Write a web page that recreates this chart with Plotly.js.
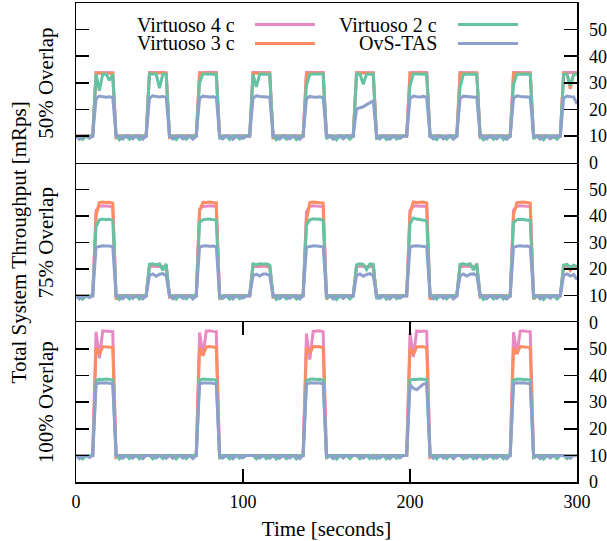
<!DOCTYPE html>
<html>
<head>
<meta charset="utf-8">
<script src="https://cdn.plot.ly/plotly-3.0.1.min.js"></script>
<style>html,body{margin:0;padding:0;background:#fff;}#chart{width:607px;height:541px;}</style>
</head>
<body>
<div id="chart"></div>
<script>
// Time axis (seconds)
const timeSec = [
0,2,4,6,8,10,12,14,16,18,
20,22,24,26,28,30,32,34,36,38,
40,42,44,46,48,50,52,54,56,58,
60,62,64,66,68,70,72,74,76,78,
80,82,84,86,88,90,92,94,96,98,
100,102,104,106,108,110,112,114,116,118,
120,122,124,126,128,130,132,134,136,138,
140,142,144,146,148,150,152,154,156,158,
160,162,164,166,168,170,172,174,176,178,
180,182,184,186,188,190,192,194,196,198,
200,202,204,206,208,210,212,214,216,218,
220,222,224,226,228,230,232,234,236,238,
240,242,244,246,248,250,252,254,256,258,
260,262,264,266,268,270,272,274,276,278,
280,282,284,286,288,290,292,294,296,298,
300];

const seriesNames = ['Virtuoso 4 c','Virtuoso 3 c','Virtuoso 2 c','OvS-TAS'];
const panelLabels = ['50% Overlap','75% Overlap','100% Overlap'];
const yTickVals = [0,10,20,30,40,50];
const xTickVals = [0,100,200,300];

// ---------------- 50% overlap ----------------
const p50_v4 = [
10,10,10,10,10,10,
33.9,33.9,34,33.9,33.9,33.8,
10,10,10,10,10,10,10,10,10,10,
33.9,34,33.9,33.9,34,33.8,
10,10,10,10,10,10,10,10,10,
33.8,33.9,34,34,33.9,33.9,
10,10,10,10,10,10,10,10,10,10,
33.9,33.9,33.8,34,33.9,33.9,
10,10,10,10,10,10,10,10,10,10,
33.9,34,33.9,33.9,33.8,33.9,
10,10,10,10,10,10,10,10,10,
33.9,33.9,34,33.9,33.9,33.8,
10,10,10,10,10,10,10,10,10,10,
33.8,33.9,33.9,34,33.9,33.9,
10,10,10,10,10,10,10,10,10,
33.9,33.9,34,33.9,33.9,33.8,
10,10,10,10,10,10,10,10,10,10,
33.9,34,33.9,33.9,33.9,33.8,
10,10,10,10,10,10,10,10,10,
33.9,33.9,34,33.9,33.9];
const p50_v3 = [
10,10,10,10,10,10,
33.6,33.7,33.7,33.6,33.7,33.6,
9.4,10,10,10,10,10,10,10,10,10,
33.7,33.6,33.7,33.7,33.6,33.7,
9.5,10,10,10,10,10,10,10,10,
33.6,33.7,33.7,33.6,33.7,33.6,
10,10,10,10,9.5,10,10,10,10,10,
33.7,33.6,33.7,33.6,33.7,33.6,
9.4,10,10,10,10,10,10,10,10,10,
33.6,33.7,33.6,33.7,33.7,33.6,
10,10,10,9.5,10,10,10,10,10,
33.7,33.6,33.7,33.7,33.6,33.6,
9.4,10,10,10,10,10,10,10,10,10,
33.6,33.7,33.6,33.7,33.7,33.6,
10,10,10,10,10,9.5,10,10,10,
33.7,33.6,33.7,33.6,33.7,33.6,
9.5,10,10,10,10,10,10,10,10,10,
33.6,33.7,33.7,33.6,33.7,33.6,
10,10,10,10,10,10,9.5,10,10,
33.6,33.5,27.8,33.4,33.6];
const p50_v2 = [
10,9.8,8.7,10,10,10,
33.3,27,33.2,33.3,31,33.2,
10,8.6,10,10,8.8,10,10,8.7,10,10,
33.3,33.2,33.3,28,33.3,33.1,
10,10,8.7,10,10,8.8,10,10,10,
30,33.3,33.3,33.2,33.3,33.2,
8.8,10,10,8.7,10,10,8.9,10,10,10,
33.2,28.5,33.3,33.3,33.3,33.2,
10,8.6,10,10,8.8,10,10,8.7,10,10,
29,33.2,33.3,33.3,33.2,33.3,
8.9,10,10,8.6,10,10,10,8.8,10,
33.3,33.3,29.5,33.2,33.3,33.2,
8.8,10,10,8.7,10,10,8.9,10,10,10,
29,33.3,33.3,33.2,33.3,33.2,
10,10,8.7,10,10,8.8,10,10,10,
28.5,33.3,33.2,33.3,33.3,33.2,
10,8.6,10,10,8.8,10,10,8.7,10,10,
29.5,33.2,33.3,33.3,33.2,33.3,
8.9,10,10,8.6,10,10,10,8.8,10,
33.2,33.3,29,33.2,33.3];
const p50_ovs = [
10,8.8,10,10,9.2,10,
24,25,24.8,24.6,24.8,24.5,
10,10,8.9,10,10,9,10,10,8.8,10,
24.2,25.1,24.9,24.7,24.9,24.6,
10,8.9,10,10,9,10,10,8.8,10,
24.1,25,24.8,24.7,24.8,24.5,
10,9,10,10,8.8,10,10,9.1,10,10,
24.3,25.1,24.9,24.8,24.9,24.6,
10,10,8.9,10,10,9,10,10,8.8,10,
24,24.9,24.7,24.6,24.8,24.4,
10,10,8.8,10,10,9,10,10,10,
20.2,20.5,21,21.8,22.6,23.2,
10,9,10,10,8.8,10,10,9.1,10,10,
24.2,25,24.8,24.7,24.9,24.5,
10,8.9,10,10,9,10,10,8.8,10,
24.1,25,24.9,24.7,24.8,24.5,
10,10,8.9,10,10,9,10,10,8.8,10,
24.3,25.1,24.9,24.8,24.9,24.6,
10,10,8.8,10,10,9,10,10,10,
24.2,25,24.8,24.7,22];

// ---------------- 75% overlap ----------------
const p75_v4 = [
10,10,10,10,10,10,
42,43.6,43.8,43.7,43.8,43.5,
9.6,10,10,10,10,10,10,10,10,10,
20.8,21.2,21,21.1,21,20.8,
10,10,10,10,10,10,10,10,10,
42.5,43.7,43.6,43.8,43.7,43.5,
9.6,10,10,10,10,10,10,10,10,10,
20.9,21.1,21,21.2,21,20.8,
10,10,10,10,10,10,10,10,10,10,
41.5,43.6,43.8,43.7,43.6,43.5,
9.6,10,10,10,10,10,10,10,10,
20.8,21.2,21,21.1,21,20.9,
10,10,10,10,10,10,10,10,10,10,
42,43.7,43.8,43.6,43.7,43.4,
9.6,10,10,10,10,10,10,10,10,
20.9,21.1,21.2,21,21,20.8,
10,10,10,10,10,10,10,10,10,10,
42.2,43.6,43.8,43.7,43.8,43.5,
9.6,10,10,10,10,10,10,10,10,
20.8,21.2,21,21.1,21];
const p75_v3 = [
10,10,10,10,10,10,
40,45,45.2,45,45.1,44.8,
8.6,10,10,10,10,10,10,10,10,10,
21.5,21.8,21.6,21.7,20.5,21.5,
9.5,10,10,10,10,10,10,10,10,
42,45.1,45,45.2,45,44.9,
8.6,10,10,10,10,10,10,10,10,10,
21.6,21.7,21.5,21.8,21.6,21.3,
9.5,10,10,10,10,10,10,10,10,10,
38.5,45,45.2,45.1,45,44.8,
8.7,10,10,10,10,10,10,10,10,
21.5,21.8,21.6,20.4,21.7,21.4,
9.5,10,10,10,10,10,10,10,10,10,
41,45.2,45,45.1,45.2,44.9,
8.6,10,10,10,10,10,10,10,10,
21.6,21.8,21.5,21.7,20.6,21.5,
9.5,10,10,10,10,10,10,10,10,10,
40.5,45,45.1,45.2,45,44.8,
8.7,10,10,10,10,10,10,10,10,
21.4,21.7,19.5,21.2,20.8];
const p75_v2 = [
10,9.8,8.7,10,10,10,
36,38.5,38.8,38.6,38.7,38.3,
10,8.6,10,10,8.8,10,10,8.7,10,10,
21.8,22,21.6,22,19.5,22,
10,10,8.7,10,10,8.8,10,10,10,
37.5,38.6,38.7,38.8,38.6,38.4,
8.8,10,10,8.7,10,10,8.9,10,10,10,
22,21.7,22,21.8,22,21.5,
10,8.6,10,10,8.8,10,10,8.7,10,10,
36.5,38.5,38.9,38.7,38.8,38.2,
8.9,10,10,8.6,10,10,10,8.8,10,
21.6,22,21.8,19.8,22,21.8,
8.8,10,10,8.7,10,10,8.9,10,10,10,
37,39.2,38.8,38.6,38.4,38.2,
10,10,8.7,10,10,8.8,10,10,10,
21.8,22,21.7,22,19.6,22,
10,8.6,10,10,8.8,10,10,8.7,10,10,
37.5,38.6,38.7,38.6,38.6,38.3,
8.9,10,10,8.6,10,10,10,8.8,10,
21.5,21.8,20.5,21.5,21];
const p75_ovs = [
10,8.8,10,10,9.2,10,
28.2,28.6,28.8,28.7,28.7,28.4,
10,10,8.9,10,10,9,10,10,8.8,10,
17.6,18.2,17.3,18.1,18.3,17.5,
10,8.9,10,10,9,10,10,8.8,10,
28.3,28.7,28.8,28.6,28.7,28.4,
10,9,10,10,8.8,10,10,9.1,10,10,
17.5,18.1,17.4,18.2,18.2,17.6,
10,10,8.9,10,10,9,10,10,8.8,10,
28.2,28.6,28.8,28.7,28.6,28.4,
10,10,8.8,10,10,9,10,10,10,
17.6,18.2,17.3,18,18.3,17.5,
10,9,10,10,8.8,10,10,9.1,10,10,
28.3,28.7,28.8,28.7,28.7,28.4,
10,8.9,10,10,9,10,10,8.8,10,
17.5,18.2,17.4,18.1,18.2,17.6,
10,10,8.9,10,10,9,10,10,8.8,10,
28.2,28.6,28.8,28.6,28.7,28.4,
10,10,8.8,10,10,9,10,10,10,
17.6,18.2,17.4,18,16];

// ---------------- 100% overlap ----------------
const p100_v4 = [
10,10,10,10,10,10,
56.4,46.5,56.8,56.7,56.6,56.5,
9.5,10,10,10,10, 10,10,10,10,10, 10,10,10,10,10, 10,10,10,10,10, 10,10,10,10,10,
56.2,47.5,56.7,56.8,56.6,56.5,
9.5,10,10,10,10, 10,10,10,10,10, 10,10,10,10,10, 10,10,10,10,10, 10,10,10,10,10, 10,
55.8,46,56.6,56.7,56.8,56.4,
9.5,10,10,10,10, 10,10,10,10,10, 10,10,10,10,10, 10,10,10,10,10, 10,10,10,10,10,
56,47,56.8,56.6,56.7,56.5,
9.5,10,10,10,10, 10,10,10,10,10, 10,10,10,10,10, 10,10,10,10,10, 10,10,10,10,10,
56.3,48,56.7,56.8,56.6,56.5,
9.5,10,10,10,10, 10,10,10,10,10, 10,10,10,10];
const p100_v3 = [
10,10,10,10,10,10,
50.4,48,50.9,50.8,50.8,50.5,
9.3,10,10,10,10, 10,10,10,10,10, 10,10,10,10,10, 10,10,10,10,10, 10,10,10,10,10,
50.3,47.5,50.8,50.9,50.7,50.5,
9.3,10,10,10,10, 10,10,10,10,10, 10,10,10,10,10, 10,10,10,10,10, 10,10,10,10,10, 10,
50.5,48.5,50.9,50.8,50.8,50.4,
9.3,10,10,10,10, 10,10,10,10,10, 10,10,10,10,10, 10,10,10,10,10, 10,10,10,10,10,
50.4,48,50.8,50.9,50.8,50.5,
9.3,10,10,10,10, 10,10,10,10,10, 10,10,10,10,10, 10,10,10,10,10, 10,10,10,10,10,
50.3,48.2,50.9,50.8,50.7,50.5,
9.3,10,10,10,10, 10,10,10,10,10, 10,10,10,10];
const p100_v2 = [
10,9.8,8.7,10,10,10,
38.2,38.6,38.5,38.7,38.5,38.4,
10,8.6,10,10,8.8,10,10,8.7,10,10, 10,8.7,10,10,8.8,10, 10,10,8.7,10,10,8.8,10,10,10,
38.3,38.7,38.6,38.5,38.6,38.4,
8.8,10,10,8.7,10,10,8.9,10,10,10, 10,8.7,10,10,8.8,10, 10,8.6,10,10,8.8,10,10,8.7,10,10,
38.1,38.6,38.7,38.5,38.6,38.3,
8.9,10,10,8.6,10,10,10,8.8,10, 10,8.7,10,10,8.8,10, 8.8,10,10,8.7,10,10,8.9,10,10,10,
38.3,38.6,38.5,38.7,38.6,38.4,
10,10,8.7,10,10,8.8,10,10,10, 10,8.7,10,10,8.8,10, 10,8.6,10,10,8.8,10,10,8.7,10,10,
38.2,38.7,38.6,38.5,38.6,38.4,
8.9,10,10,8.6,10,10,10,8.8,10, 10,8.8,10,10,10];
const p100_ovs = [
10,8.8,10,10,9.2,10,
36.8,37.3,37.2,37.3,37.1,36.9,
10,10,8.9,10,10,9,10,10,8.8,10, 10,10,9,10,10,8.9, 10,8.9,10,10,9,10,10,8.8,10,
36.9,37.2,37.3,37.2,37.1,36.8,
10,9,10,10,8.8,10,10,9.1,10,10, 10,10,9,10,10,8.9, 10,10,8.9,10,10,9,10,10,8.8,10,
36.8,37.3,37.2,37.3,37.2,36.9,
10,10,8.8,10,10,9,10,10,10, 10,10,9,10,10,8.9, 10,9,10,10,8.8,10,10,9.1,10,10,
36.5,35.2,34.7,35.8,36.8,37,
10,8.9,10,10,9,10,10,8.8,10, 10,10,9,10,10,8.9, 10,10,8.9,10,10,9,10,10,8.8,10,
36.9,37.3,37.2,37.3,37.1,36.9,
10,10,8.8,10,10,9,10,10,10, 10,10,8.9,10,10];

const seriesColors = ['#e78ac3','#fc8d62','#66c2a5','#8da0cb'];

const panels = [
  {x:'x3', y:'y',  data:[p50_v4,p50_v3,p50_v2,p50_ovs]},
  {x:'x2', y:'y2', data:[p75_v4,p75_v3,p75_v2,p75_ovs]},
  {x:'x',  y:'y3', data:[p100_v4,p100_v3,p100_v2,p100_ovs]}
];

const traces = [];
panels.forEach((p, pi) => {
  p.data.forEach((vals, si) => {
    if (vals.length !== timeSec.length) {
      throw new Error('Length mismatch panel ' + pi + ' series ' + si + ': ' + vals.length);
    }
    traces.push({
      type:'scatter', mode:'lines', x: timeSec, y: vals,
      xaxis: p.x, yaxis: p.y, name: seriesNames[si],
      line:{color: seriesColors[si], width:3},
      showlegend:false, hoverinfo:'skip'
    });
  });
});

const FONT = 'Liberation Serif, Times New Roman, serif';
const axisLine = {showline:true, linecolor:'#000', linewidth:1.5, showgrid:false, zeroline:false};

function yAx(domain, anchor) {
  return Object.assign({}, axisLine, {
    domain: domain, anchor: anchor, range:[0,60], side:'right',
    tickmode:'array', tickvals: yTickVals, ticktext: yTickVals.map(String),
    ticks:'inside', ticklen:13, tickwidth:1.5, tickcolor:'#000', mirror:'ticks',
    tickfont:{family:FONT, size:18, color:'#000'}, ticklabelstandoff: 7, fixedrange:true
  });
}

const layout = {
  width:607, height:541,
  margin:{l:76, r:30, t:3, b:59},
  paper_bgcolor:'#fff', plot_bgcolor:'#fff',
  font:{family:FONT, size:18, color:'#000'},
  showlegend:false,
  xaxis: Object.assign({}, axisLine, {
    domain:[0,1], anchor:'y3', range:[0,300],
    tickmode:'array', tickvals:xTickVals, ticktext:xTickVals.map(String),
    ticks:'inside', ticklen:13, tickwidth:1.5, tickcolor:'#000', mirror:'ticks',
    tickfont:{family:FONT, size:18, color:'#000'}, ticklabelstandoff: 3,
    title:{text:'Time [seconds]', font:{family:FONT, size:21, color:'#000'}, standoff:13}
  }),
  xaxis2: Object.assign({}, axisLine, {matches:'x', anchor:'y2', showline:false, ticks:'', showticklabels:false}),
  xaxis3: Object.assign({}, axisLine, {matches:'x', anchor:'y', mirror:true, ticks:'', showticklabels:false}),
  yaxis: yAx([2/3, 1], 'x3'),
  yaxis2: yAx([1/3, 2/3], 'x2'),
  yaxis3: yAx([0, 1/3], 'x'),
  annotations: [
    {xref:'paper', yref:'paper', x:0.3194, y:0.955, xanchor:'right', yanchor:'middle', showarrow:false, borderpad:0, text:seriesNames[0], font:{family:FONT, size:20, color:'#000'}},
    {xref:'paper', yref:'paper', x:0.3194, y:0.9155, xanchor:'right', yanchor:'middle', showarrow:false, borderpad:0, text:seriesNames[1], font:{family:FONT, size:20, color:'#000'}},
    {xref:'paper', yref:'paper', x:0.7226, y:0.955, xanchor:'right', yanchor:'middle', showarrow:false, borderpad:0, text:seriesNames[2], font:{family:FONT, size:20, color:'#000'}},
    {xref:'paper', yref:'paper', x:0.7226, y:0.9155, xanchor:'right', yanchor:'middle', showarrow:false, borderpad:0, text:seriesNames[3], font:{family:FONT, size:20, color:'#000'}},
    {xref:'paper', yref:'paper', x:-0.0599, y:5/6, xanchor:'center', yanchor:'middle', showarrow:false, textangle:-90, text:panelLabels[0], font:{family:FONT, size:21, color:'#000'}},
    {xref:'paper', yref:'paper', x:-0.0599, y:0.5, xanchor:'center', yanchor:'middle', showarrow:false, textangle:-90, text:panelLabels[1], font:{family:FONT, size:21, color:'#000'}},
    {xref:'paper', yref:'paper', x:-0.0599, y:1/6, xanchor:'center', yanchor:'middle', showarrow:false, textangle:-90, text:panelLabels[2], font:{family:FONT, size:21, color:'#000'}},
    {xref:'paper', yref:'paper', x:-0.1138, y:0.5, xanchor:'center', yanchor:'middle', showarrow:false, textangle:-90, text:'Total System Throughput [mRps]', font:{family:FONT, size:21, color:'#000'}}
  ],
  shapes: [
    {type:'line', xref:'paper', yref:'paper', x0:0.3573, x1:0.477, y0:0.955, y1:0.955, line:{color:seriesColors[0], width:3}},
    {type:'line', xref:'paper', yref:'paper', x0:0.3573, x1:0.477, y0:0.9155, y1:0.9155, line:{color:seriesColors[1], width:3}},
    {type:'line', xref:'paper', yref:'paper', x0:0.7625, x1:0.8822, y0:0.955, y1:0.955, line:{color:seriesColors[2], width:3}},
    {type:'line', xref:'paper', yref:'paper', x0:0.7625, x1:0.8822, y0:0.9155, y1:0.9155, line:{color:seriesColors[3], width:3}}
  ]
};

Plotly.newPlot('chart', traces, layout, {staticPlot:true, displayModeBar:false});
</script>
</body>
</html>
